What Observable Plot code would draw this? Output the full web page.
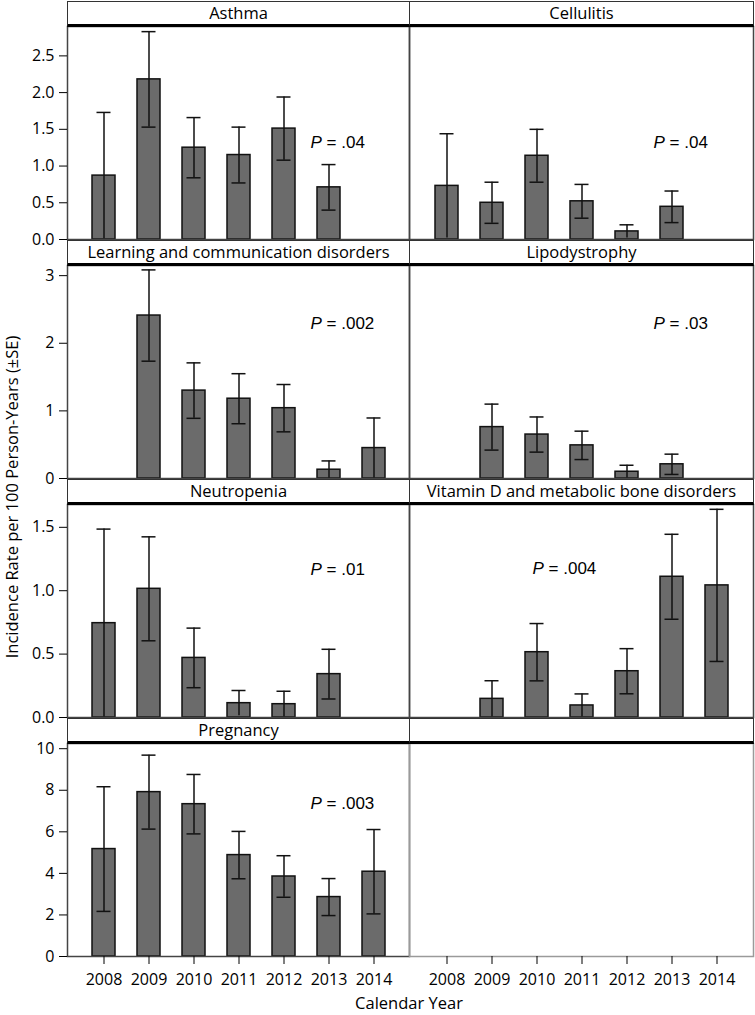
<!DOCTYPE html>
<html>
<head>
<meta charset="utf-8">
<script src="https://cdn.jsdelivr.net/npm/d3@7"></script>
<script src="https://cdn.jsdelivr.net/npm/@observablehq/plot@0.6"></script>
<style>
  body { margin: 0; background: #fff; }
  #chart { position: relative; width: 755px; height: 1015px; font-family: "Open Sans", sans-serif; color: #000; }
  #chart svg { position: absolute; }
  .hdr { position: absolute; box-sizing: border-box; background: #fff; border: 1px solid #333; border-bottom: 3px solid #000;
         text-align: center; font-size: 16.5px; line-height: 22px; z-index: 2; white-space: nowrap; }
  .ytitle { position: absolute; width: 600px; height: 22px; line-height: 22px; text-align: center; font-size: 16.5px;
            transform: rotate(-90deg); white-space: nowrap; }
  .xtitle { position: absolute; width: 300px; height: 16px; line-height: 16px; text-align: center; font-size: 16.5px; }
</style>
</head>
<body>
<div id="chart"></div>
<script>
// ---- data ----
const years = ["2008", "2009", "2010", "2011", "2012", "2013", "2014"];

const asthmaRate = [0.87, 2.18, 1.25, 1.15, 1.51, 0.71, null];
const asthmaSE   = [0.86, 0.65, 0.41, 0.38, 0.43, 0.31, null];

const cellulitisRate = [0.73, 0.50, 1.14, 0.52, 0.11, 0.445, null];
const cellulitisSE   = [0.71, 0.28, 0.36, 0.23, 0.09, 0.215, null];

const learningRate = [null, 2.41, 1.30, 1.18, 1.04, 0.13, 0.45];
const learningSE   = [null, 0.675, 0.41, 0.37, 0.35, 0.13, 0.445];

const lipodystrophyRate = [null, 0.76, 0.65, 0.49, 0.10, 0.21, null];
const lipodystrophySE   = [null, 0.34, 0.26, 0.21, 0.096, 0.15, null];

const neutropeniaRate = [0.744, 1.015, 0.47, 0.113, 0.105, 0.342, null];
const neutropeniaSE   = [0.742, 0.41, 0.235, 0.10, 0.102, 0.196, null];

const vitaminDRate = [null, 0.147, 0.515, 0.095, 0.365, 1.11, 1.042];
const vitaminDSE   = [null, 0.143, 0.226, 0.091, 0.178, 0.335, 0.60];

const pregnancyRate = [5.17, 7.91, 7.33, 4.88, 3.85, 2.86, 4.08];
const pregnancySE   = [3.00, 1.78, 1.43, 1.14, 1.00, 0.89, 2.03];

const panelNames = ["Asthma", "Cellulitis", "Learning and communication disorders", "Lipodystrophy",
                    "Neutropenia", "Vitamin D and metabolic bone disorders", "Pregnancy", ""];
const pValues = [".04", ".04", ".002", ".03", ".01", ".004", ".003", null];

const rowTicks = [[0, 0.5, 1, 1.5, 2, 2.5], [0, 1, 2, 3], [0, 0.5, 1, 1.5], [0, 2, 4, 6, 8, 10]];
const rowTickFormat = [".1f", "d", ".1f", "d"];
const yAxisTitle = "Incidence Rate per 100 Person-Years (\u00B1SE)";
const xAxisTitle = "Calendar Year";

// ---- layout ----
const seriesRates = [asthmaRate, cellulitisRate, learningRate, lipodystrophyRate, neutropeniaRate, vitaminDRate, pregnancyRate, null];
const seriesSE = [asthmaSE, cellulitisSE, learningSE, lipodystrophySE, neutropeniaSE, vitaminDSE, pregnancySE, null];
const rowYMax = [2.90, 3.15, 1.68, 10.25];
const colLeft = [67, 409];
const colWidth = [342, 344];
const headerTop = [1, 240, 479, 718];
const headerH = 25;
const plotH = 213;
const pPos = [[243, 116], [244, 116], [243, 58], [244, 58], [243, 65], [123, 64], [243, 60], null];

const chart = document.getElementById("chart");
const pad = 3;

for (let k = 0; k < 8; k++) {
  const row = Math.floor(k / 2), col = k % 2;
  const plotTop = headerTop[row] + headerH;
  const isLeft = col === 0, isBottom = row === 3;
  const rates = seriesRates[k], se = seriesSE[k];
  const data = rates ? years.map((y, i) => rates[i] == null ? null : ({
    year: y, rate: rates[i], lo: Math.max(0, rates[i] - se[i]), hi: rates[i] + se[i]
  })).filter(d => d) : [];

  const mL = isLeft ? 67 : pad, mR = pad, mT = pad, mB = isBottom ? 40 : pad;
  const empty = !rates;
  const marks = [];
  if (!empty) {
    marks.push(
      Plot.barY(data, {x: "year", y: "rate", fill: "#6b6b6b", stroke: "#111", strokeWidth: 1.5}),
      Plot.ruleX(data, {x: "year", y1: "lo", y2: "hi", stroke: "#111", strokeWidth: 1.5}),
      Plot.tickY(data, {x: "year", y: "hi", stroke: "#111", strokeWidth: 1.5, insetLeft: 4.5, insetRight: 4.5}),
      Plot.tickY(data.filter(d => d.lo > 0.03), {x: "year", y: "lo", stroke: "#111", strokeWidth: 1.5, insetLeft: 4.5, insetRight: 4.5})
    );
  }
  marks.push(Plot.frame({stroke: empty ? "#9a9a9a" : "#444", strokeWidth: 1.5}));
  if (isLeft) {
    marks.push(Plot.axisY({ticks: rowTicks[row], tickFormat: d3.format(rowTickFormat[row]), tickSize: 8, tickPadding: 5, label: null, fontSize: 16}));
  }
  if (isBottom) {
    marks.push(Plot.axisX({tickSize: 8, tickPadding: 9, label: null, fontSize: 16}));
  }
  if (pValues[k]) {
    marks.push(Plot.text([pValues[k]], {frameAnchor: "top-left", dx: pPos[k][0], dy: pPos[k][1], text: d => "P = " + d,
      textAnchor: "start", lineAnchor: "middle", fontFamily: "Liberation Sans, Arial, sans-serif", fontSize: 17, fill: "#000"}));
  }

  const svg = Plot.plot({
    width: mL + colWidth[col] + mR,
    height: mT + plotH + mB,
    marginLeft: mL, marginRight: mR, marginTop: mT, marginBottom: mB,
    style: {background: "transparent", overflow: "visible", fontFamily: "Open Sans, sans-serif", fontSize: "16px", color: "#000"},
    x: {type: "band", domain: years, padding: 0.49, axis: null},
    y: {domain: [0, rowYMax[row]], axis: null},
    marks
  });
  svg.style.left = (colLeft[col] - mL) + "px";
  svg.style.top = (plotTop - mT) + "px";
  svg.style.position = "absolute";
  // italic P
  svg.querySelectorAll('g[aria-label="text"] text').forEach(t => {
    const v = t.textContent.replace("P = ", "");
    t.innerHTML = '<tspan font-style="italic">P</tspan> = ' + v;
  });
  chart.appendChild(svg);

  const hdr = document.createElement("div");
  hdr.className = "hdr";
  hdr.style.left = colLeft[col] + "px";
  hdr.style.top = headerTop[row] + "px";
  hdr.style.width = (colWidth[col] + 1) + "px";
  hdr.style.height = (headerH + 1) + "px";
  hdr.textContent = panelNames[k];
  chart.appendChild(hdr);
}

const yt = document.createElement("div");
yt.className = "ytitle";
yt.style.left = (12 - 300) + "px";
yt.style.top = (497 - 11) + "px";
yt.textContent = yAxisTitle;
chart.appendChild(yt);

const xt = document.createElement("div");
xt.className = "xtitle";
xt.style.left = (409 - 150) + "px";
xt.style.top = "995px";
xt.textContent = xAxisTitle;
chart.appendChild(xt);
</script>
</body>
</html>
